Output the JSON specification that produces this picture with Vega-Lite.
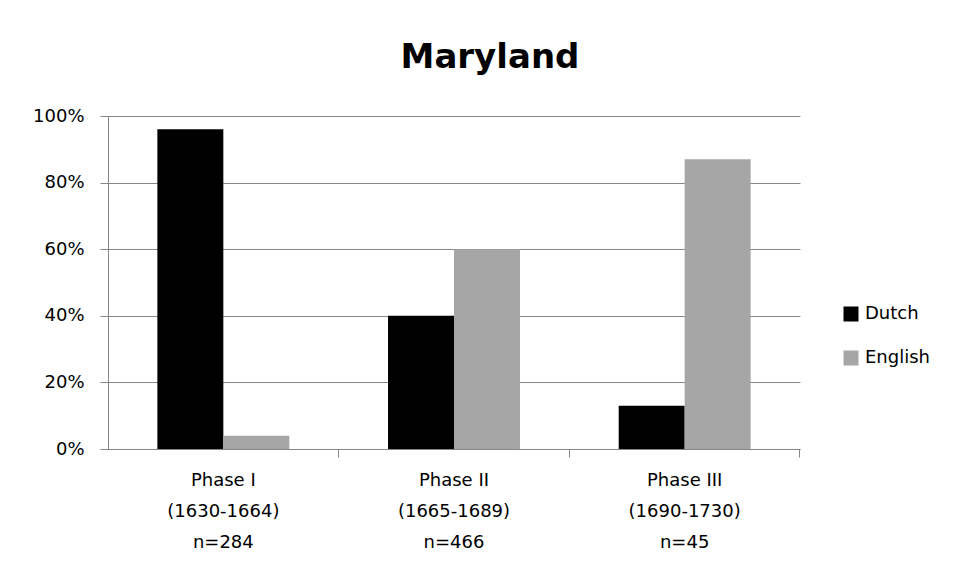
{
  "$schema": "https://vega.github.io/schema/vega-lite/v6.json",
  "autosize": {"type": "none"},
  "width": 692,
  "height": 333,
  "padding": {"left": 108, "top": 116, "right": 160, "bottom": 131},
  "background": "white",
  "title": {
    "text": "Maryland",
    "font": "DejaVu Sans",
    "fontSize": 34,
    "fontWeight": "bold",
    "color": "black",
    "anchor": "middle",
    "dx": 36,
    "offset": 32
  },
  "data": {
    "values": [
      {"phase": "Phase I|(1630-1664)|n=284", "group": "Dutch", "value": 0.96},
      {"phase": "Phase I|(1630-1664)|n=284", "group": "English", "value": 0.04},
      {"phase": "Phase II|(1665-1689)|n=466", "group": "Dutch", "value": 0.40},
      {"phase": "Phase II|(1665-1689)|n=466", "group": "English", "value": 0.60},
      {"phase": "Phase III|(1690-1730)|n=45", "group": "Dutch", "value": 0.13},
      {"phase": "Phase III|(1690-1730)|n=45", "group": "English", "value": 0.87}
    ]
  },
  "mark": {"type": "bar"},
  "encoding": {
    "x": {
      "field": "phase",
      "type": "nominal",
      "sort": null,
      "scale": {"paddingInner": 0.428, "paddingOuter": 0.214},
      "axis": {
        "title": null,
        "labelAngle": 0,
        "labelExpr": "split(datum.label, '|')",
        "labelLineHeight": 31,
        "labelFont": "DejaVu Sans",
        "labelFontSize": 18,
        "labelColor": "black",
        "labelPadding": 14,
        "labelBaseline": "top",
        "bandPosition": 1.374,
        "tickSize": 8,
        "tickColor": "#868686",
        "domainColor": "#868686",
        "grid": false
      }
    },
    "y": {
      "field": "value",
      "type": "quantitative",
      "scale": {"domain": [0, 1]},
      "axis": {
        "title": null,
        "format": ".0%",
        "values": [0, 0.2, 0.4, 0.6, 0.8, 1],
        "labelFont": "DejaVu Sans",
        "labelFontSize": 18,
        "labelColor": "black",
        "labelPadding": 16,
        "tickSize": 8,
        "tickColor": "#868686",
        "domainColor": "#868686",
        "gridColor": "#868686",
        "grid": true
      }
    },
    "xOffset": {"field": "group", "type": "nominal", "scale": {"paddingInner": 0, "paddingOuter": 0}},
    "color": {
      "field": "group",
      "type": "nominal",
      "scale": {"domain": ["Dutch", "English"], "range": ["#000000", "#a6a6a6"]},
      "legend": {
        "title": null,
        "orient": "none",
        "legendX": 734,
        "legendY": 189,
        "symbolType": "square",
        "symbolSize": 225,
        "symbolStrokeWidth": 0,
        "labelFont": "DejaVu Sans",
        "labelFontSize": 18,
        "labelColor": "black",
        "labelOffset": 5,
        "rowPadding": 26
      }
    }
  },
  "config": {"view": {"stroke": null}}
}
